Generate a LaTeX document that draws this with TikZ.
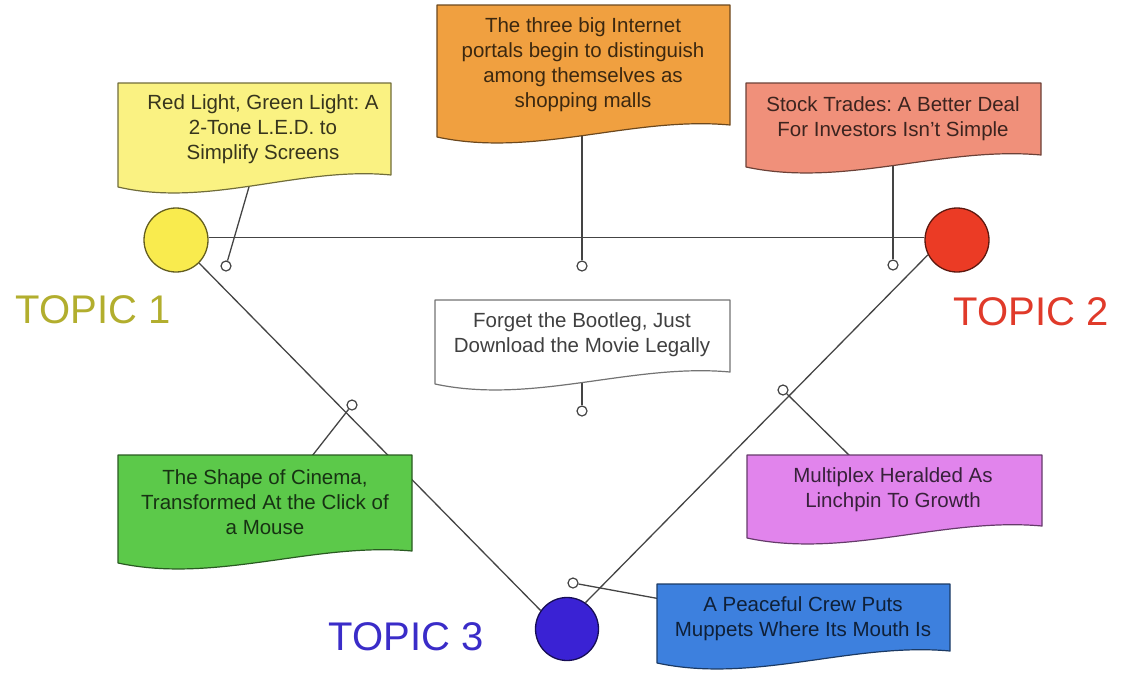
\documentclass[tikz,border=0pt]{standalone}
\usepackage{fontspec}
\setmainfont{Liberation Sans}
\usetikzlibrary{calc}
\frenchspacing

\pgfdeclarelayer{back}
\pgfdeclarelayer{paper}
\pgfsetlayers{back,paper,main}

% palette
\definecolor{noteyellow}{HTML}{FAF282}
\definecolor{noteorange}{HTML}{F0A040}
\definecolor{notered}{HTML}{F0907A}
\definecolor{notewhite}{HTML}{FFFFFF}
\definecolor{notegreen}{HTML}{5CC94A}
\definecolor{notepurple}{HTML}{E184EC}
\definecolor{noteblue}{HTML}{3D80DE}
\definecolor{topicyellow}{HTML}{F9EB4E}
\definecolor{topicred}{HTML}{EB3B25}
\definecolor{topicblue}{HTML}{3A22D4}
\definecolor{labelone}{HTML}{B2AE2E}
\definecolor{labeltwo}{HTML}{E03A2A}
\definecolor{labelthree}{HTML}{3A2CC8}
\definecolor{linkgray}{HTML}{444444}

\tikzset{
  link/.style={draw=linkgray, line width=1.3pt},
  pin/.style={circle, draw=linkgray, fill=white, line width=1.2pt,
              minimum size=10pt, inner sep=0pt},
  topic/.style={circle, line width=1.3pt, minimum size=64pt, inner sep=0pt},
  notetext/.style={align=center, inner sep=0pt,
                   font=\fontsize{20.5}{25}\selectfont},
  topiclabel/.style={inner sep=0pt, font=\fontsize{40}{44}\selectfont},
}

% sheet of paper with a wavy lower edge:
% #1 colour, #2 left x, #3 top y, #4 right x, #5 lowest y of the wave
\newcommand\paperpath[5]{%
  \filldraw[fill=#1, draw=#1!45!black, line width=1.2pt, line join=round]
    (#2,#3) -- (#4,#3) -- (#4,#5-17)
    .. controls ({#2+2*(#4-#2)/3},#5-26) and ({#2+(#4-#2)/3},#5+16) ..
    (#2,#5-5) -- cycle;}

\begin{document}
\begin{tikzpicture}[x=1pt,y=-1pt]
\useasboundingbox (0,0) rectangle (1135,672);

% topics
\node[topic, fill=topicyellow, draw=topicyellow!40!black] (t1) at (176,240) {};
\node[topic, fill=topicred, draw=topicred!40!black] (t2) at (957,240) {};
\node[topic, fill=topicblue, draw=topicblue!40!black, minimum size=63pt] (t3) at (567,629) {};

\node[topiclabel, text=labelone] (l1) at (93,310) {TOPIC 1};
\node[topiclabel, text=labeltwo] (l2) at (1031,312) {TOPIC 2};
\node[topiclabel, text=labelthree] (l3) at (406,637) {TOPIC 3};

% attachment pins
\node[pin] (p1) at (226,266) {};
\node[pin] (p2) at (582,266) {};
\node[pin] (p3) at (893,265) {};
\node[pin] (p4) at (582,411) {};
\node[pin] (p5) at (352,405) {};
\node[pin] (p6) at (783,390) {};
\node[pin] (p7) at (573,583) {};

% note texts
\node[notetext, text=noteyellow!22!black] (n1) at (263,129)
  {Red Light, Green Light: A\\2-Tone L.E.D. to\\Simplify Screens};
\node[notetext, text=noteorange!25!black] (n2) at (583,65)
  {The three big Internet\\portals begin to distinguish\\among themselves as\\shopping malls};
\node[notetext, text=notered!25!black] (n3) at (893,119)
  {Stock Trades: A Better Deal\\For Investors Isn't Simple};
\node[notetext, text=notewhite!25!black] (n4) at (582,335)
  {Forget the Bootleg, Just\\Download the Movie Legally};
\node[notetext, text=notegreen!25!black] (n5) at (265,502)
  {The Shape of Cinema,\\Transformed At the Click of\\a Mouse};
\node[notetext, text=notepurple!25!black] (n6) at (893,490)
  {Multiplex Heralded As\\Linchpin To Growth};
\node[notetext, text=noteblue!25!black] (n7) at (803,619)
  {A Peaceful Crew Puts\\Muppets Where Its Mouth Is};

% where each pin line meets its note
\coordinate (c1) at (251,180);
\coordinate (c2) at (582,125);
\coordinate (c3) at (893,160);
\coordinate (c4) at (582,375);
\coordinate (c5) at (305,465);
\coordinate (c6) at (855,461);
\coordinate (c7) at (666,600);

\begin{pgfonlayer}{back}
  \draw[link] (t1.4) -- (t2.176);
  \draw[link] (t1.-45) -- (t3.145);
  \draw[link] (t2.207) -- (t3.55);
  \draw[link] (p1) -- (c1);
  \draw[link] (p2) -- (c2);
  \draw[link] (p3) -- (c3);
  \draw[link] (p4) -- (c4);
  \draw[link] (p5) -- (c5);
  \draw[link] (p6) -- (c6);
  \draw[link] (p7) -- (c7);
\end{pgfonlayer}

\begin{pgfonlayer}{paper}
  \paperpath{noteyellow}{118}{83}{391}{192}
  \paperpath{noteorange}{437}{5}{730}{142}
  \paperpath{notered}{746}{83}{1041}{172}
  \paperpath{notewhite}{435}{300}{730}{389}
  \paperpath{notegreen}{118}{455}{412}{568}
  \paperpath{notepurple}{747}{455}{1042}{543}
  \paperpath{noteblue}{657}{584}{950}{668}
\end{pgfonlayer}
\end{tikzpicture}
\end{document}
